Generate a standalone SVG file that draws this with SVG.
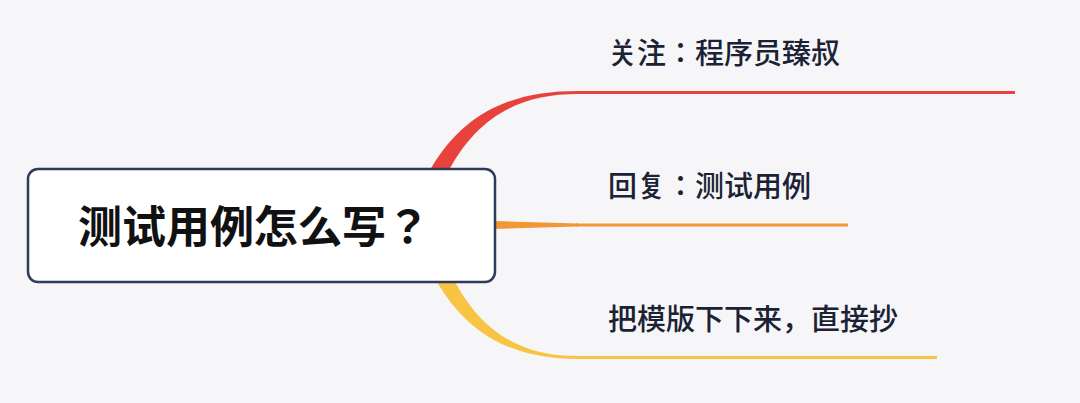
<svg xmlns="http://www.w3.org/2000/svg" width="1080" height="403" viewBox="0 0 1080 403">
<style>
.lbl{font-family:"Noto Sans CJK JP","Noto Sans CJK SC",sans-serif;font-size:29px;font-weight:500;fill:#1c2235}
.root{font-family:"Noto Sans CJK JP","Noto Sans CJK SC",sans-serif;font-size:44px;font-weight:bold;fill:#111}
</style>
<rect width="1080" height="403" fill="#f6f6f8"/>
<g id="connectors">
<path d="M430,170 C465,110 515,91 578,91 L578,94 C520,94 476,116 446,176 Z" fill="#e8423d"/>
<line x1="576" y1="92.5" x2="1015" y2="92.5" stroke="#e8423d" stroke-width="3"/>
<path d="M494,221 L578,223.5 L578,226.5 L494,229 Z" fill="#f29734"/>
<line x1="576" y1="225" x2="848" y2="225" stroke="#f29734" stroke-width="3"/>
<path d="M436,280 C470,340 520,359 578,359 L578,356 C525,356 482,336 452,276 Z" fill="#f7c444"/>
<line x1="576" y1="357.5" x2="937" y2="357.5" stroke="#f7c444" stroke-width="3"/>
</g>
<g id="root">
<rect x="28" y="169" width="467" height="113" rx="10" fill="#fff" stroke="#2e3b5a" stroke-width="2.5"/>
<text class="root" x="78" y="243">测试用例怎么写？</text>
</g>
<g id="n1"><text class="lbl" x="608" y="64">关注：程序员臻叔</text></g>
<g id="n2"><text class="lbl" x="608" y="197">回复：测试用例</text></g>
<g id="n3"><text class="lbl" x="608" y="330">把模版下下来，直接抄</text></g>
</svg>
